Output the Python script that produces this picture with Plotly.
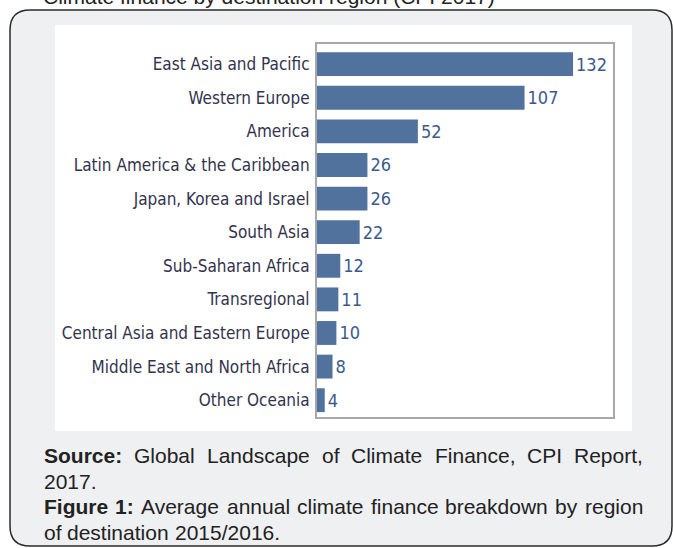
import plotly.graph_objects as go

# ---------------- data ----------------
regions = [
    "East Asia and Pacific",
    "Western Europe",
    "America",
    "Latin America & the Caribbean",
    "Japan, Korea and Israel",
    "South Asia",
    "Sub-Saharan Africa",
    "Transregional",
    "Central Asia and Eastern Europe",
    "Middle East and North Africa",
    "Other Oceania",
]
values = [132, 107, 52, 26, 26, 22, 12, 11, 10, 8, 4]

caption_lines = [
    [("Source:", True), ("Global", False), ("Landscape", False), ("of", False),
     ("Climate", False), ("Finance,", False), ("CPI", False), ("Report,", False)],
    [("2017.", False)],
    [("Figure", True), ("1:", True), ("Average", False), ("annual", False),
     ("climate", False), ("finance", False), ("breakdown", False), ("by", False),
     ("region", False)],
    [("of", False), ("destination", False), ("2015/2016.", False)],
]
justify = [True, False, True, False]
top_text = "Climate finance by destination region (CPI 2017)"

# ---------------- geometry helpers ----------------
W, H = 673, 548


def px(x):
    return x / W


def py(y):
    return 1 - y / H


REG = {' ': 278, ',': 278, '.': 278, '/': 278, ':': 278, '&': 667, '(': 333, ')': 333, '-': 333}
BLD = {' ': 278, ',': 278, '.': 278, '/': 278, ':': 333, '&': 722, '(': 333, ')': 333, '-': 333}
for d in "0123456789":
    REG[d] = 556
    BLD[d] = 556
REG.update(dict(zip("ABCDEFGHIJKLMNOPQRSTUVWXYZ",
                    [667, 667, 722, 722, 667, 611, 778, 722, 278, 500, 667, 556, 833, 722, 778,
                     667, 778, 722, 667, 611, 722, 667, 944, 667, 667, 611])))
REG.update(dict(zip("abcdefghijklmnopqrstuvwxyz",
                    [556, 556, 500, 556, 556, 278, 556, 556, 222, 222, 500, 222, 833, 556, 556,
                     556, 556, 333, 500, 278, 556, 500, 722, 500, 500, 500])))
BLD.update(dict(zip("ABCDEFGHIJKLMNOPQRSTUVWXYZ",
                    [722, 722, 722, 722, 667, 611, 778, 722, 278, 556, 722, 611, 833, 722, 778,
                     667, 778, 722, 667, 611, 722, 667, 944, 667, 667, 611])))
BLD.update(dict(zip("abcdefghijklmnopqrstuvwxyz",
                    [556, 611, 556, 611, 556, 333, 611, 611, 278, 278, 556, 278, 889, 611, 611,
                     611, 611, 389, 556, 333, 611, 556, 778, 556, 556, 500])))

CAP_SIZE = 21


def word_width(w, bold):
    t = BLD if bold else REG
    return sum(t.get(c, 556) for c in w) * CAP_SIZE / 1000.0


COND = "Liberation Sans Narrow, DejaVu Sans Condensed, sans-serif"

# ---------------- figure ----------------
fig = go.Figure()
fig.add_trace(go.Bar(
    x=values,
    y=regions,
    orientation="h",
    width=0.71,
    marker=dict(color="#50729c", line=dict(width=0)),
    text=[str(v) for v in values],
    textposition="outside",
    textfont=dict(family=COND, size=18, color="#3a5a8c"),
    cliponaxis=False,
    hoverinfo="skip",
))

shapes = []
# outer rounded box
x0, x1, y0, y1, r = 10, 672, 10, 546, 20
path = (f"M {px(x0 + r)},{py(y0)} L {px(x1 - r)},{py(y0)} Q {px(x1)},{py(y0)} {px(x1)},{py(y0 + r)} "
        f"L {px(x1)},{py(y1 - r)} Q {px(x1)},{py(y1)} {px(x1 - r)},{py(y1)} "
        f"L {px(x0 + r)},{py(y1)} Q {px(x0)},{py(y1)} {px(x0)},{py(y1 - r)} "
        f"L {px(x0)},{py(y0 + r)} Q {px(x0)},{py(y0)} {px(x0 + r)},{py(y0)} Z")
shapes.append(dict(type="path", path=path, xref="paper", yref="paper",
                   fillcolor="#eff0f2", line=dict(color="#2b2b2b", width=1.5), layer="below"))
# white image panel
shapes.append(dict(type="rect", xref="paper", yref="paper",
                   x0=px(55), x1=px(632), y0=py(431), y1=py(25),
                   fillcolor="white", line=dict(width=0), layer="below"))

annotations = []
# line of text above the box, mostly cut off by the top edge (as in the reference)
annotations.append(dict(text=top_text, xref="paper", yref="paper", x=px(42), y=py(9),
                        xanchor="left", yanchor="bottom", showarrow=False, borderpad=0,
                        font=dict(family="Liberation Sans, Arial, sans-serif", size=21, color="#222222")))

# caption, word by word (justified lines)
left, right = 43, 642
centers = [455.7, 481.2, 506.7, 532.2]
for line, just, cy in zip(caption_lines, justify, centers):
    widths = [word_width(w, b) for w, b in line]
    space = CAP_SIZE * 0.278
    if just and len(line) > 1:
        space = (right - left - sum(widths)) / (len(line) - 1)
    x = left
    for (w, b), ww in zip(line, widths):
        annotations.append(dict(
            text=f"<b>{w}</b>" if b else w, xref="paper", yref="paper",
            x=px(x), y=py(cy), xanchor="left", yanchor="middle",
            showarrow=False, borderpad=0,
            font=dict(family="Liberation Sans, Arial, sans-serif", size=CAP_SIZE, color="#222222")))
        x += ww + space

fig.update_layout(
    width=W, height=H,
    margin=dict(l=0, r=0, t=0, b=0, pad=0),
    paper_bgcolor="white",
    plot_bgcolor="rgba(0,0,0,0)",
    showlegend=False,
    shapes=shapes,
    annotations=annotations,
    bargap=0.29,
    xaxis=dict(domain=[px(317), px(613)], range=[0, 152.6], showgrid=False, zeroline=False,
               showticklabels=False, ticks="", showline=True, mirror=True,
               linecolor="#a8a8a8", linewidth=2, fixedrange=True),
    yaxis=dict(domain=[py(417), py(44)], type="category", categoryorder="array",
               categoryarray=regions, range=[10.5, -0.6], showgrid=False, zeroline=False,
               ticks="", showline=True, mirror=True, linecolor="#a8a8a8", linewidth=2,
               ticklabelstandoff=2,
               tickfont=dict(family=COND, size=17, color="#33334d"),
               fixedrange=True),
)

fig.write_html("out.html")
